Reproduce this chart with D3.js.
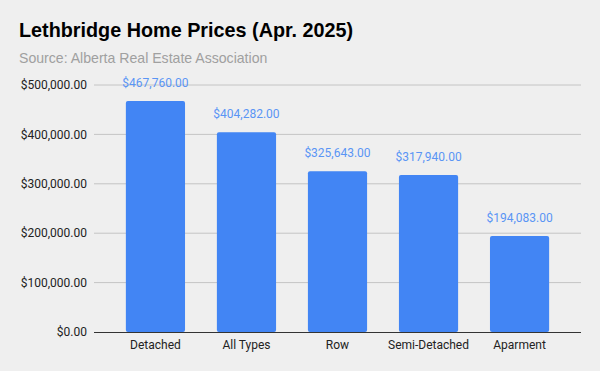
<!DOCTYPE html>
<html>
<head>
<meta charset="utf-8">
<script src="https://cdn.jsdelivr.net/npm/d3@7"></script>
<style>
  body { margin: 0; background: #efefef; }
  svg { display: block; font-family: Roboto, Arial, sans-serif; }
</style>
</head>
<body>
<script>
const categories = ["Detached", "All Types", "Row", "Semi-Detached", "Aparment"];
const prices = [467760, 404282, 325643, 317940, 194083];
const yTicks = [0, 100000, 200000, 300000, 400000, 500000];

const w = 600;
const h = 371;
const margin = { left: 94, right: 19, top: 85, bottom: 39 };

const svg = d3.select("body")
  .append("svg")
  .attr("width", w)
  .attr("height", h);

svg.append("rect")
  .attr("width", w)
  .attr("height", h)
  .attr("fill", "#efefef");

// title + source line (these look like Arial in the original)
svg.append("text")
  .attr("x", 19)
  .attr("y", 37)
  .attr("font-family", "Arial, 'Liberation Sans', sans-serif")
  .attr("font-size", 19.8)
  .attr("font-weight", "bold")
  .attr("fill", "#000")
  .text("Lethbridge Home Prices (Apr. 2025)");

svg.append("text")
  .attr("x", 19)
  .attr("y", 63)
  .attr("font-family", "Arial, 'Liberation Sans', sans-serif")
  .attr("font-size", 14.1)
  .attr("fill", "#a0a0a0")
  .text("Source: Alberta Real Estate Association");

const x = d3.scaleBand()
  .domain(categories)
  .range([margin.left, w - margin.right])
  .paddingInner(0.35)
  .paddingOuter(0.35);

const y = d3.scaleLinear()
  .domain([0, 500000])
  .range([h - margin.bottom, margin.top]);

const money = d3.format("$,.2f");

// gridlines
svg.append("g")
  .selectAll("line")
  .data(yTicks.slice(1))
  .enter()
  .append("line")
  .attr("x1", margin.left)
  .attr("x2", w - margin.right)
  .attr("y1", d => y(d))
  .attr("y2", d => y(d))
  .attr("stroke", "#c4c4c4")
  .attr("stroke-width", 1);

// y labels
svg.append("g")
  .selectAll("text")
  .data(yTicks)
  .enter()
  .append("text")
  .attr("x", 87)
  .attr("y", d => y(d))
  .attr("dy", "0.35em")
  .attr("text-anchor", "end")
  .attr("font-size", 12)
  .attr("fill", "#222")
  .text(d => money(d));

// bars
svg.append("g")
  .selectAll("rect")
  .data(prices)
  .enter()
  .append("rect")
  .attr("x", (d, i) => x(categories[i]))
  .attr("y", d => y(d))
  .attr("width", x.bandwidth())
  .attr("height", d => y(0) - y(d))
  .attr("rx", 2)
  .attr("fill", "#4285f4");

// value labels
svg.append("g")
  .selectAll("text")
  .data(prices)
  .enter()
  .append("text")
  .attr("x", (d, i) => x(categories[i]) + x.bandwidth() / 2)
  .attr("y", d => y(d) - 14)
  .attr("text-anchor", "middle")
  .attr("font-size", 12)
  .attr("fill", "#5a95f5")
  .text(d => money(d));

// baseline
svg.append("line")
  .attr("x1", margin.left)
  .attr("x2", w - margin.right)
  .attr("y1", y(0) + 0.5)
  .attr("y2", y(0) + 0.5)
  .attr("stroke", "#333")
  .attr("stroke-width", 1);

// category labels
svg.append("g")
  .selectAll("text")
  .data(categories)
  .enter()
  .append("text")
  .attr("x", d => x(d) + x.bandwidth() / 2)
  .attr("y", 349)
  .attr("text-anchor", "middle")
  .attr("font-size", 12)
  .attr("fill", "#222")
  .text(d => d);
</script>
</body>
</html>
